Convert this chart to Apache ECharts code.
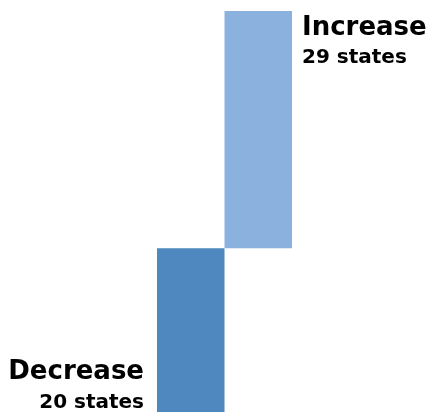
<!DOCTYPE html>
<html><head><meta charset="utf-8">
<script src="https://cdn.jsdelivr.net/npm/echarts@6/dist/echarts.min.js"></script>
<style>html,body{margin:0;padding:0;background:#fff}#c{width:432px;height:412px}</style>
</head><body><div id="c"></div>
<script>
const categories = ['Decrease', 'Increase'];
const values = [-20, 29];
const countLabels = ['20 states', '29 states'];
const colors = ['#4F88BE', '#8BB1DF'];

const chart = echarts.init(document.getElementById('c'), null, {renderer: 'canvas'});
const font = 'DejaVu Sans';
chart.setOption({
  animation: false,
  grid: {left: 157, width: 135, top: 11, height: 402},
  xAxis: {type: 'category', data: categories, show: false},
  yAxis: {type: 'value', min: -20, max: 29, show: false},
  series: [{
    type: 'bar',
    barCategoryGap: 0,
    data: values.map((v, i) => ({
      value: v,
      itemStyle: {color: colors[i]},
      label: i === 0 ? {
        show: true, position: 'left', distance: 13, align: 'right', offset: [0, 57]
      } : {
        show: true, position: 'right', distance: 10, align: 'left', offset: [0, -87]
      }
    })),
    label: {
      formatter: p => '{a|' + categories[p.dataIndex] + '}\n{b|' + countLabels[p.dataIndex] + '}',
      rich: {
        a: {fontFamily: font, fontWeight: 'bold', fontSize: 26, lineHeight: 31, color: '#000'},
        b: {fontFamily: font, fontWeight: 'bold', fontSize: 20, lineHeight: 29, color: '#000'}
      }
    }
  }]
});
</script></body></html>
